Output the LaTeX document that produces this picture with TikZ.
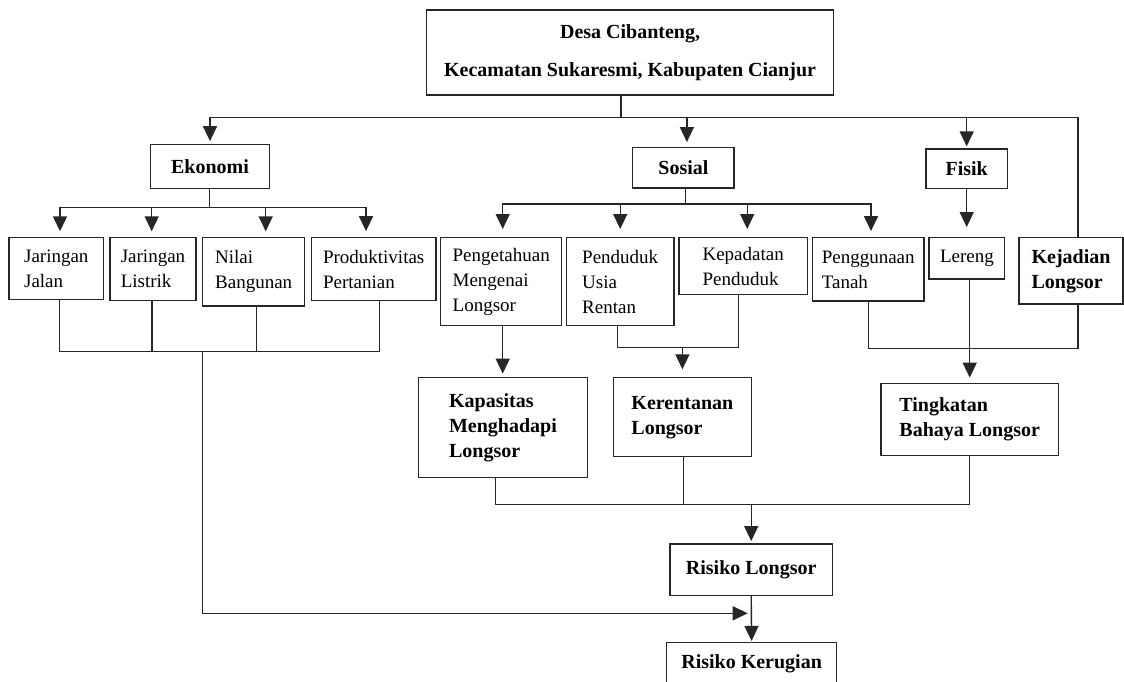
\documentclass[tikz,border=0pt]{standalone}
\usepackage{fontspec}
\setmainfont{Liberation Serif}
\usetikzlibrary{arrows.meta}
\begin{document}
\begin{tikzpicture}[x=1pt,y=-1pt,
  line/.style={line width=1.4pt, draw=black!85},
  arr/.style={line, -{Triangle[length=15pt,width=14pt]}},
  box/.style={draw=black!85, line width=1.4pt, inner sep=0pt, align=left, font=\fontsize{19}{25}\selectfont},
  bbox/.style={box, font=\fontsize{20}{25}\selectfont\bfseries}]
\useasboundingbox (0,0) rectangle (1124,681);
\clip (0,0) rectangle (1124,681);
\fill[white] (0,0) rectangle (1124,681);

% boxes
\node[bbox, align=center, font=\fontsize{20}{38}\selectfont\bfseries, minimum width=406.8pt, minimum height=85pt] (title) at (630.1,52.5) {Desa Cibanteng,\\Kecamatan Sukaresmi, Kabupaten Cianjur};
\node[bbox, minimum width=118.6pt, minimum height=44pt] (ekonomi) at (210,166.3) {Ekonomi};
\node[bbox, minimum width=101.3pt, minimum height=40.3pt] (sosial) at (683.4,167.9) {Sosial};
\node[bbox, minimum width=81.3pt, minimum height=39.3pt] (fisik) at (966.7,168.7) {Fisik};

\node[box, minimum width=94.7pt, minimum height=62pt] (jj) at (56.3,268.7) {Jaringan\\Jalan};
\node[box, minimum width=86pt, minimum height=63pt] (jl) at (153,269.2) {Jaringan\\Listrik};
\node[box, minimum width=102pt, minimum height=68.3pt] (nb) at (253.7,271.9) {Nilai\\Bangunan};
\node[box, minimum width=124.7pt, minimum height=63.2pt] (pp) at (373.7,269.1) {Produktivitas\\Pertanian};
\node[box, minimum width=121pt, minimum height=88pt] (pml) at (501.2,281.7) {Pengetahuan\\Mengenai\\Longsor};
\node[box, minimum width=107.7pt, minimum height=88pt] (pur) at (620.2,281.7) {Penduduk\\Usia\\Rentan};
\node[box, minimum width=128.3pt, minimum height=56.6pt] (kp) at (743.2,266) {Kepadatan\\Penduduk};
\node[box, minimum width=111.7pt, minimum height=63.3pt] (pt) at (868.2,269.4) {Penggunaan\\Tanah};
\node[box, minimum width=75.7pt, minimum height=41.3pt] (ler) at (966.9,258.4) {Lereng};
\node[bbox, minimum width=104pt, minimum height=66.5pt] (kej) at (1071,270.8) {Kejadian\\Longsor};

\node[bbox, minimum width=169pt, minimum height=99.6pt] (kap) at (503,427.5) {Kapasitas\\Menghadapi\\Longsor};
\node[bbox, minimum width=137.8pt, minimum height=79pt] (ker) at (682.4,417.2) {Kerentanan\\Longsor};
\node[bbox, minimum width=177.3pt, minimum height=72.4pt] (tin) at (969.7,419.5) {Tingkatan\\Bahaya Longsor};
\node[bbox, minimum width=162.7pt, minimum height=51.3pt] (rl) at (751.2,569.7) {Risiko Longsor};
\node[bbox, minimum width=169.8pt, minimum height=41.3pt] (rk) at (751.6,663.3) {Risiko Kerugian};

% top level
\coordinate (hub) at (621,117.3);
\draw[line] (title.south -| hub) -- (hub);
\draw[arr, shorten >=2.5pt] (hub) -| (ekonomi.north);
\draw[arr, shorten >=5pt] (hub) -| ([xshift=3.5pt]sosial.north);
\draw[arr, shorten >=2pt] (hub) -| (fisik.north);
\draw[line] (hub) -| ([xshift=7pt]kej.north);

% Ekonomi children
\coordinate (ek) at (209.3,207.7);
\draw[line] (ekonomi.south -| ek) -- (ek);
\draw[arr, shorten >=5.7pt] (ek) -| ([xshift=3.7pt]jj.north);
\draw[arr, shorten >=5.7pt] (ek) -| ([xshift=-1.3pt]jl.north);
\draw[arr, shorten >=5.7pt] (ek) -| ([xshift=12pt]nb.north);
\draw[arr, shorten >=5.7pt] (ek) -| ([xshift=-7.7pt]pp.north);

% Ekonomi merge to Risiko Kerugian
\coordinate (em) at (202.7,351.3);
\draw[line] ([xshift=3pt]jj.south) |- (em);
\draw[line] ([xshift=-1pt]jl.south) |- (em);
\draw[line] ([xshift=3pt]nb.south) |- (em);
\draw[line] ([xshift=5.6pt]pp.south) |- (em);
\coordinate (rj) at (751.2,613.3);
\draw[arr, shorten >=3.5pt] (em) |- (rj);

% Sosial children
\coordinate (so) at (685.7,204);
\draw[line] (sosial.south -| so) -- (so);
\draw[arr, shorten >=8pt] (so) -| ([xshift=1.5pt]pml.north);
\draw[arr, shorten >=8pt] (so) -| (pur.north);
\draw[arr, shorten >=8pt] (so) -| ([xshift=4pt]kp.north);
\draw[arr, shorten >=6pt] (so) -| ([xshift=2.8pt]pt.north);

% Fisik child
\draw[arr, shorten >=10pt] (fisik.south) -- (fisik.south |- ler.north);

% to Kapasitas
\draw[arr, shorten >=3.4pt] ([xshift=1.5pt]pml.south) -- ([xshift=1.5pt]pml.south |- kap.north);

% to Kerentanan
\coordinate (km) at (682.4,347.7);
\draw[line] ([xshift=-2.5pt]pur.south) |- (km);
\draw[line] ([xshift=-5pt]kp.south) |- (km);
\draw[arr, shorten >=7.7pt] (km) -- (ker.north);

% to Tingkatan
\coordinate (tm) at (969.7,348.3);
\draw[line] (pt.south) |- (tm);
\draw[line] ([xshift=7pt]kej.south) |- (tm);
\draw[arr, shorten >=5pt] (ler.south -| tin.north) -- (tin.north);

% to Risiko Longsor
\coordinate (rm) at (751.2,504.3);
\draw[line] ([xshift=-7.3pt]kap.south) |- (rm);
\draw[line] ([xshift=0.8pt]ker.south) |- (rm);
\draw[line] (tin.south) |- (rm);
\draw[arr, shorten >=2.3pt] (rm) -- (rl.north);

% to Risiko Kerugian
\draw[arr, shorten >=1pt] (rl.south) -- (rk.north);
\end{tikzpicture}
\end{document}
